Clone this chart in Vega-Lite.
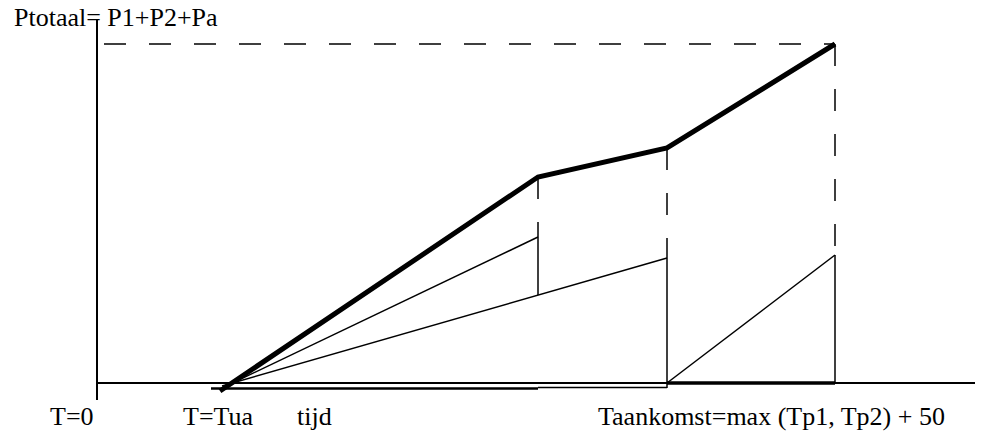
{
  "$schema": "https://vega.github.io/schema/vega-lite/v6.json",
  "width": 986,
  "height": 437,
  "padding": 0,
  "autosize": {"type": "fit", "contains": "padding"},
  "background": "white",
  "config": {"view": {"stroke": null}},
  "datasets": {
    "segs": [
      {"kind": "axis", "x": 97, "y": 19, "x2": 97, "y2": 400},
      {"kind": "axis", "x": 97, "y": 383, "x2": 975, "y2": 383},
      {"kind": "base", "x": 211, "y": 388.5, "x2": 538, "y2": 388.5},
      {"kind": "base2", "x": 667, "y": 383, "x2": 835, "y2": 383},
      {"kind": "thin", "x": 538, "y": 387.5, "x2": 667, "y2": 387.5},
      {"kind": "thin", "x": 222, "y": 388, "x2": 538, "y2": 237},
      {"kind": "thin", "x": 222, "y": 386, "x2": 667, "y2": 258},
      {"kind": "thin", "x": 538, "y": 237, "x2": 538, "y2": 295},
      {"kind": "thin", "x": 667, "y": 258, "x2": 667, "y2": 388},
      {"kind": "thin", "x": 667, "y": 383, "x2": 835, "y2": 255},
      {"kind": "thin", "x": 835, "y": 255, "x2": 835, "y2": 383},
      {"kind": "dash", "x": 104, "y": 44, "x2": 835, "y2": 44},
      {"kind": "dash", "x": 835, "y": 44, "x2": 835, "y2": 255},
      {"kind": "dash", "x": 538, "y": 177, "x2": 538, "y2": 237},
      {"kind": "dash", "x": 667, "y": 148, "x2": 667, "y2": 258}
    ],
    "total": [
      {"step": 1, "x": 220, "y": 391},
      {"step": 2, "x": 538, "y": 177},
      {"step": 3, "x": 667, "y": 148},
      {"step": 4, "x": 835, "y": 44}
    ],
    "labels": [
      {"label": "Ptotaal= P1+P2+Pa", "x": 14, "y": 26},
      {"label": "T=0", "x": 50, "y": 425},
      {"label": "T=Tua", "x": 183, "y": 425},
      {"label": "tijd", "x": 297, "y": 425},
      {"label": "Taankomst=max (Tp1, Tp2) + 50", "x": 598, "y": 425}
    ]
  },
  "encoding": {
    "x": {"field": "x", "type": "quantitative", "scale": {"domain": [0, 986], "nice": false, "zero": false}, "axis": null},
    "y": {"field": "y", "type": "quantitative", "scale": {"domain": [0, 437], "nice": false, "zero": false, "reverse": true}, "axis": null}
  },
  "layer": [
    {
      "data": {"name": "segs"},
      "transform": [{"filter": "datum.kind === 'axis'"}],
      "mark": {"type": "rule", "color": "black", "strokeWidth": 2},
      "encoding": {"x2": {"field": "x2"}, "y2": {"field": "y2"}}
    },
    {
      "data": {"name": "segs"},
      "transform": [{"filter": "datum.kind === 'base'"}],
      "mark": {"type": "rule", "color": "black", "strokeWidth": 2.5},
      "encoding": {"x2": {"field": "x2"}, "y2": {"field": "y2"}}
    },
    {
      "data": {"name": "segs"},
      "transform": [{"filter": "datum.kind === 'base2'"}],
      "mark": {"type": "rule", "color": "black", "strokeWidth": 3.5},
      "encoding": {"x2": {"field": "x2"}, "y2": {"field": "y2"}}
    },
    {
      "data": {"name": "segs"},
      "transform": [{"filter": "datum.kind === 'thin'"}],
      "mark": {"type": "rule", "color": "black", "strokeWidth": 1.5},
      "encoding": {"x2": {"field": "x2"}, "y2": {"field": "y2"}}
    },
    {
      "data": {"name": "segs"},
      "transform": [{"filter": "datum.kind === 'dash'"}],
      "mark": {"type": "rule", "color": "black", "strokeWidth": 1.5, "strokeDash": [22, 23]},
      "encoding": {"x2": {"field": "x2"}, "y2": {"field": "y2"}}
    },
    {
      "data": {"name": "total"},
      "mark": {"type": "line", "color": "black", "strokeWidth": 5, "strokeJoin": "miter"},
      "encoding": {"order": {"field": "step", "type": "quantitative"}}
    },
    {
      "data": {"name": "labels"},
      "mark": {"type": "text", "align": "left", "baseline": "alphabetic", "font": "Liberation Serif", "fontSize": 26, "color": "black"},
      "encoding": {"text": {"field": "label", "type": "nominal"}}
    }
  ]
}
